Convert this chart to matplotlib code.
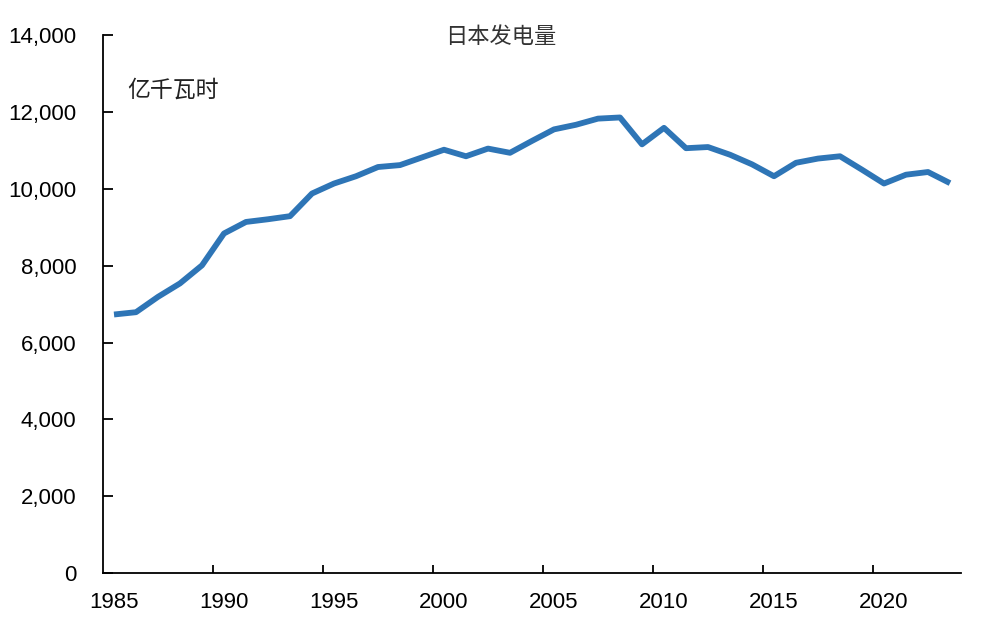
import matplotlib.pyplot as plt
from matplotlib.ticker import FuncFormatter

plt.rcParams['font.family'] = ['Liberation Sans', 'Noto Sans CJK SC', 'DejaVu Sans']

years = list(range(1985, 2024))
# 亿千瓦时
output = [6730, 6790, 7190, 7540, 8010, 8840, 9140, 9210, 9290, 9880,
          10140, 10330, 10570, 10620, 10820, 11020, 10850, 11050, 10940, 11250,
          11550, 11670, 11830, 11860, 11160, 11590, 11060, 11090, 10890, 10640,
          10330, 10680, 10790, 10850, 10500, 10140, 10370, 10440, 10150]
label_years = [1985, 1990, 1995, 2000, 2005, 2010, 2015, 2020]
y_ticks = [0, 2000, 4000, 6000, 8000, 10000, 12000, 14000]

fig = plt.figure(figsize=(10, 6.3), dpi=100)
ax = fig.add_axes([0.103, 0.0905, 0.858, 0.8535])

ax.plot(years, output, color="#2E75B6", linewidth=4.2, solid_capstyle="butt")

ax.set_xlim(years[0] - 0.5, years[-1] + 0.5)
ax.set_ylim(0, 14000)

# category-style axis: tick marks between years, labels on the years
ax.set_xticks([y - 0.5 for y in label_years[1:]])
ax.set_xticklabels([])
ax.set_xticks(label_years, minor=True)
ax.set_xticklabels([str(y) for y in label_years], minor=True)
ax.tick_params(axis="x", which="major", direction="in", length=6, width=1.3)
ax.tick_params(axis="x", which="minor", length=0, pad=14, labelsize=16)

ax.set_yticks(y_ticks)
ax.yaxis.set_major_formatter(FuncFormatter(lambda v, p: f"{int(v):,}"))
ax.tick_params(axis="y", direction="in", length=7, width=1.3, pad=19, labelsize=16)

for s in ["top", "right"]:
    ax.spines[s].set_visible(False)
for s in ["left", "bottom"]:
    ax.spines[s].set_linewidth(1.3)

ax.text(0.463, 0.997, "日本发电量", transform=ax.transAxes, ha="center", va="center",
        fontsize=16, color="#333333", family=["Noto Sans CJK SC", "DejaVu Sans"])
ax.text(0.028, 0.898, "亿千瓦时", transform=ax.transAxes, ha="left", va="center",
        fontsize=16.5, color="#222222", family=["Noto Sans CJK SC", "DejaVu Sans"])

plt.savefig("out.png", dpi=100)
